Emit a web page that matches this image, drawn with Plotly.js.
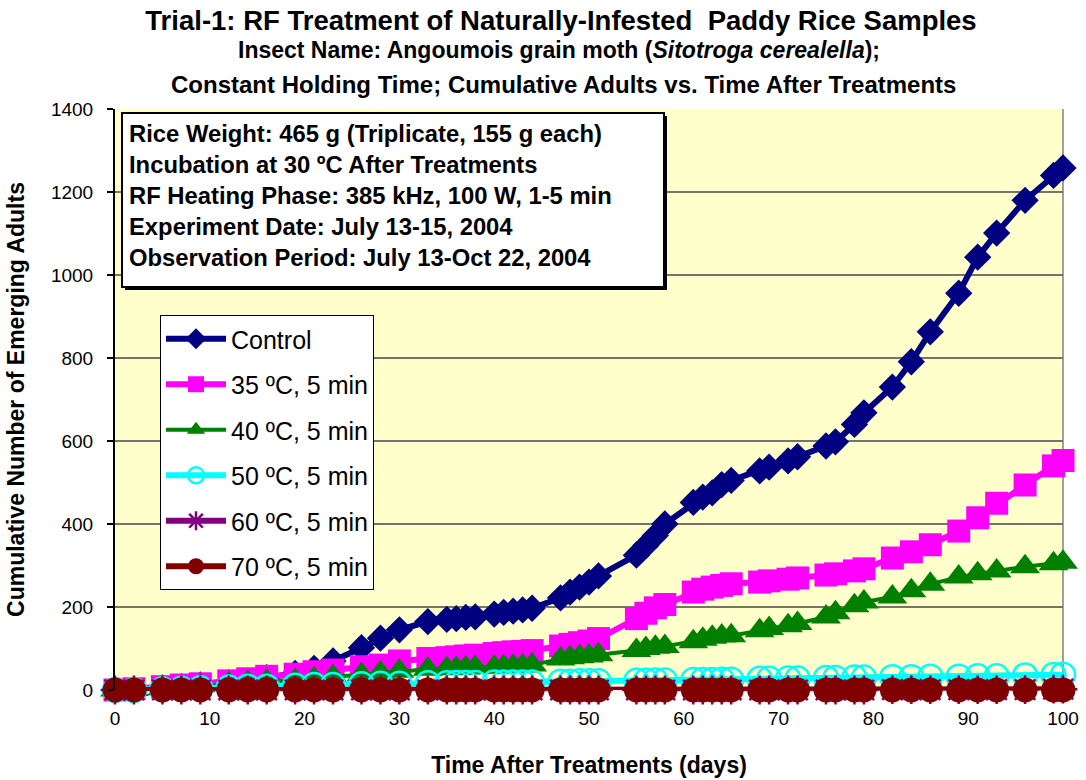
<!DOCTYPE html>
<html><head><meta charset="utf-8">
<script src="https://cdn.plot.ly/plotly-3.0.1.min.js"></script>
<style>html,body{margin:0;padding:0;background:#fff}#chart{width:1086px;height:780px}</style>
</head><body><div id="chart"></div>
<script>
const days = [0,2,5,7,9,12,14,16,19,21,23,26,28,30,33,35,36,37,38,40,41,42,43,44,47,48,49,50,51,55,56,57,58,61,62,63,64,65,68,69,71,72,75,76,78,79,82,84,86,89,91,93,96,99,100];
const control = [0,2,5,8,12,18,22,30,40,52,70,102,125,145,165,170,172,175,176,183,187,190,193,197,222,236,248,260,275,325,348,372,400,452,465,475,495,505,528,537,552,562,588,598,640,668,730,791,863,956,1043,1101,1180,1240,1258];
const t35 = [0,3,8,12,15,22,27,33,38,44,48,56,60,70,76,78,80,82,84,88,90,92,93,95,106,110,114,118,124,172,185,198,206,236,243,248,252,256,260,263,267,270,277,280,287,292,318,333,350,383,415,450,494,540,553];
const t40 = [0,1,3,6,10,15,18,21,23,27,32,37,41,45,50,51,52,53,54,55,56,57,58,60,75,78,80,82,85,95,100,103,105,116,122,127,130,131,143,148,155,160,176,186,203,212,224,239,255,272,280,287,297,304,308];
const t50 = [0,0,2,3,4,6,8,8,10,12,12,14,15,15,16,16,17,17,17,18,18,18,18,18,20,20,21,21,21,22,22,23,23,24,24,24,25,25,27,27,28,28,29,29,30,30,31,31,32,32,33,33,35,36,37];
const t60 = [0,0,0,0,0,0,0,0,0,0,0,0,0,0,0,0,0,0,0,0,0,0,0,0,0,0,0,0,0,0,0,0,0,0,0,0,0,0,0,0,0,0,0,0,0,0,1,1,1,1,1,1,1,2,2];
const t70 = [0,0,0,0,0,0,0,0,0,0,0,0,0,0,0,0,0,0,0,0,0,0,0,0,0,0,0,0,0,0,0,0,0,0,0,0,0,0,0,0,0,0,0,0,0,0,0,0,0,0,0,0,0,0,0];
const seriesNames = ['Control','35 ºC, 5 min','40 ºC, 5 min','50 ºC, 5 min','60 ºC, 5 min','70 ºC, 5 min'];
const xTicks = [0,10,20,30,40,50,60,70,80,90,100];
const infoLines = ['Rice Weight: 465 g (Triplicate, 155 g each)','Incubation at 30 ºC After Treatments','RF Heating Phase: 385 kHz, 100 W, 1-5 min','Experiment Date: July 13-15, 2004','Observation Period: July 13-Oct 22, 2004'];

const FONT = 'Liberation Sans, Arial, Helvetica, sans-serif';
const X0=115, X1=1063, Y0=690, Y1=109;
const px = x => (x - X0) / (X1 - X0);
const py = y => (Y0 - y) / (Y0 - Y1);

function tr(y, name, color, symbol, msize, lw, extra) {
  const m = Object.assign({symbol: symbol, size: msize, color: color, line: {width: 0, color: color}}, extra || {});
  return {x: days, y: y, name: name, type: 'scatter', mode: 'lines+markers',
    line: {color: color, width: lw}, marker: m, cliponaxis: false, legendgroup: name};
}
const data = [
  tr(control, seriesNames[0], '#000080', 'diamond', 21, 6),
  tr(t35, seriesNames[1], '#FF00FF', 'square', 23, 6),
  tr(t40, seriesNames[2], '#008000', 'triangle-up', 26, 4),
  tr(t50, seriesNames[3], '#00FFFF', 'circle-open', 24, 6, {line: {width: 2.5, color: '#00FFFF'}}),
  tr(t60, seriesNames[4], '#800080', 'asterisk-open', 24, 6, {line: {width: 2.5, color: '#800080'}}),
  tr(t70, seriesNames[5], '#800000', 'circle', 25, 6)
];

const annotations = [
  {text: '<b>Insect Name: Angoumois grain moth (<i>Sitotroga cerealella</i>);</b>', xref: 'paper', yref: 'paper', x: px(559), y: py(50), xanchor: 'center', yanchor: 'middle', showarrow: false, font: {family: FONT, size: 23, color: '#000'}},
  {text: '<b>Constant Holding Time; Cumulative Adults vs. Time After Treatments</b>', xref: 'paper', yref: 'paper', x: px(563), y: py(85), xanchor: 'center', yanchor: 'middle', showarrow: false, font: {family: FONT, size: 24, color: '#000'}}
];
const lineY = [133, 164, 195, 226, 257];
infoLines.forEach((t, i) => annotations.push({text: '<b>' + t + '</b>', xref: 'paper', yref: 'paper', x: px(127), y: py(lineY[i]), xanchor: 'left', yanchor: 'middle', showarrow: false, font: {family: FONT, size: 23.8, color: '#000'}}));

const shapes = [
  {type: 'rect', xref: 'paper', yref: 'paper', x0: px(125), x1: px(667), y0: py(290), y1: py(116), fillcolor: '#000', line: {width: 0}},
  {type: 'rect', xref: 'paper', yref: 'paper', x0: px(122), x1: px(664), y0: py(287), y1: py(113), fillcolor: '#fff', line: {width: 2, color: '#000'}},
  {type: 'line', xref: 'paper', yref: 'paper', x0: 1, x1: 1, y0: 0, y1: 1, line: {width: 1.5, color: '#808080'}, layer: 'below'}
];

const layout = {
  width: 1086, height: 780,
  margin: {l: 115, r: 23, t: 109, b: 90},
  paper_bgcolor: '#fff', plot_bgcolor: '#FFFFCC',
  font: {family: FONT, color: '#000'},
  title: {text: '<b>Trial-1: RF Treatment of Naturally-Infested&nbsp; Paddy Rice Samples</b>', font: {family: FONT, size: 27.5, color: '#000'}, xref: 'paper', x: px(561), xanchor: 'center', yref: 'container', y: 1 - 20/780, yanchor: 'middle'},
  xaxis: {range: [0, 100], tickvals: xTicks, ticktext: xTicks.map(String), showgrid: false, zeroline: false, showline: false, ticks: '', tickfont: {family: FONT, size: 19}, ticklabelstandoff: 15,
    title: {text: '<b>Time After Treatments (days)</b>', font: {family: FONT, size: 23}, standoff: 28}},
  yaxis: {range: [0, 1400], dtick: 200, showgrid: true, gridcolor: '#74746a', gridwidth: 1.5, zeroline: false, showline: true, linecolor: '#000', linewidth: 2, ticks: 'outside', ticklen: 6, tickwidth: 1.5, tickcolor: '#000', tickfont: {family: FONT, size: 19}, ticklabelstandoff: 10,
    title: {text: '<b>Cumulative Number of Emerging Adults</b>', font: {family: FONT, size: 23}, standoff: 20}},
  legend: {x: px(160), y: py(315), xanchor: 'left', yanchor: 'top', bgcolor: '#fff', bordercolor: '#000', borderwidth: 1, font: {family: FONT, size: 25}, tracegroupgap: 10, itemwidth: 60},
  showlegend: true,
  annotations: annotations,
  shapes: shapes
};
Plotly.newPlot('chart', data, layout, {displayModeBar: false, staticPlot: true});
</script></body></html>
